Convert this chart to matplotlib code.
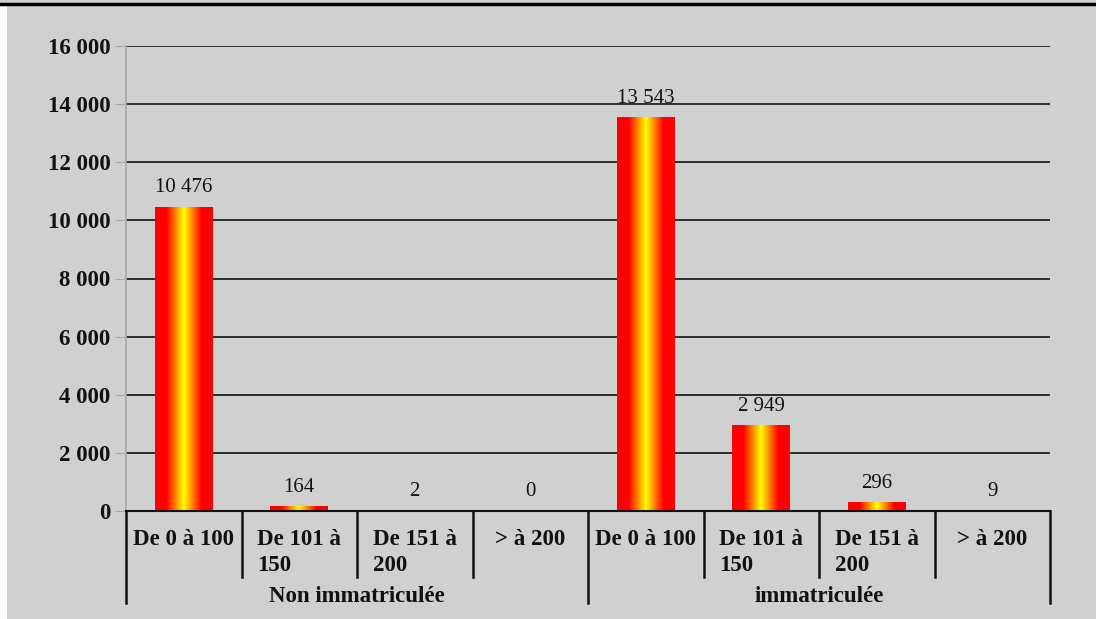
import numpy as np
import matplotlib
matplotlib.use("Agg")
import matplotlib.pyplot as plt
from matplotlib.colors import LinearSegmentedColormap
from matplotlib.lines import Line2D
from matplotlib.patches import Rectangle
import matplotlib.transforms as mtrans

# données
groups = ["Non immatriculée", "immatriculée"]
classes = ["De 0 à 100", "De 101 à\n150", "De 151 à\n200", "> à 200"]
non_immat = [10476, 164, 2, 0]
immat = [13543, 2949, 296, 9]

values = non_immat + immat
labels = classes + classes
y_ticks = list(range(0, 16001, 2000))

bg = "#d0d0d0"
plt.rcParams["font.family"] = ["Liberation Serif", "DejaVu Serif"]

fig = plt.figure(figsize=(10.96, 6.19), dpi=100, facecolor=bg)
ax = fig.add_axes([126 / 1096, 1 - 511 / 619, 924 / 1096, 465 / 619])
ax.set_facecolor(bg)

x = np.arange(len(values))
bars = ax.bar(x, values, width=0.5, color="red", zorder=3)

# dégradé rouge / jaune / rouge dans chaque barre
cmap = LinearSegmentedColormap.from_list(
    "rjr", [(0, "#ff0000"), (0.2, "#ff0000"), (0.5, "#ffff00"), (0.8, "#ff0000"), (1, "#ff0000")])
grad = np.linspace(0, 1, 256).reshape(1, -1)
for b in bars:
    x0, w, h = b.get_x(), b.get_width(), b.get_height()
    if h <= 0:
        continue
    im = ax.imshow(grad, cmap=cmap, extent=(x0, x0 + w, 0, h), aspect="auto", zorder=4)
    im.set_clip_path(b)

ax.set_xlim(-0.5, len(values) - 0.5)
ax.set_ylim(0, 16000)

# valeurs au-dessus des barres
for xi, v in zip(x, values):
    ax.annotate(f"{v:,}".replace(",", " "), (xi, v), xytext=(0, 7), textcoords="offset points",
                ha="center", va="bottom", fontsize=15, color="#111111")

ax.set_yticks(y_ticks)
ax.set_yticklabels([f"{t:,}".replace(",", " ") for t in y_ticks],
                   fontsize=16.5, fontweight="bold", color="#111111")
ax.yaxis.grid(True, color="#222222", linewidth=1.3, zorder=1)
ax.tick_params(axis="y", length=8, color="#a8a8a8", pad=3)
ax.tick_params(axis="x", length=0, pad=13)
ax.set_xticks(x)
ax.set_xticklabels(labels, fontsize=16.5, fontweight="bold", color="#111111",
                   multialignment="left", va="top", linespacing=1.3)

for s in ["top", "right"]:
    ax.spines[s].set_visible(False)
ax.spines["left"].set_color("#a8a8a8")
ax.spines["left"].set_linewidth(1.2)
ax.spines["bottom"].set_color("#111111")
ax.spines["bottom"].set_linewidth(1.5)
ax.spines["bottom"].set_zorder(5)

# séparateurs sous l'axe
trans = mtrans.blended_transform_factory(ax.transData, ax.transAxes)
n = len(classes)
for i in range(len(values) + 1):
    edge = i - 0.5
    bottom = -92 / 465 if i % n == 0 else -66 / 465
    ax.add_line(Line2D([edge, edge], [0, bottom], transform=trans, color="#111111",
                       linewidth=1.8, clip_on=False))

for g, name in enumerate(groups):
    ax.text(g * n + (n - 1) / 2, -86 / 465, name, transform=trans, ha="center", va="center",
            fontsize=16.5, fontweight="bold", color="#111111")

# cadre du graphique
fig.add_artist(Line2D([0, 1], [1 - 4 / 619, 1 - 4 / 619], transform=fig.transFigure,
                      color="black", linewidth=2.5))
fig.add_artist(Rectangle((0, 0), 7 / 1096, 1 - 5 / 619, transform=fig.transFigure,
                         facecolor="white", edgecolor="none"))

fig.savefig("out.png", dpi=100, facecolor=bg)
